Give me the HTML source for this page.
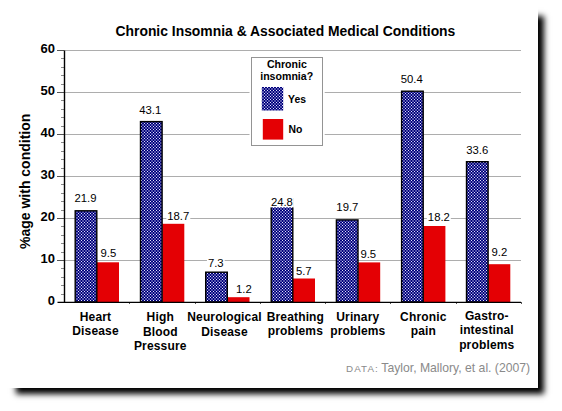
<!DOCTYPE html>
<html><head><meta charset="utf-8"><style>
html,body{margin:0;padding:0;background:#fff;width:562px;height:411px;overflow:hidden}
.card{position:absolute;left:0;top:0;width:538px;height:388px;background:#fff;box-shadow:10.7px 10.5px 6px -5px #000}
svg{position:absolute;left:0;top:0}
text{font-family:"Liberation Sans",sans-serif}
.dl{font-size:11.3px;text-anchor:middle;fill:#000}
.xl{font-size:12px;font-weight:bold;letter-spacing:0.15px;text-anchor:middle;fill:#000}
.yt{font-size:13px;font-weight:bold;text-anchor:end;fill:#000}
</style></head><body>
<div class="card"></div>
<svg width="562" height="411" viewBox="0 0 562 411">
<defs>
<pattern id="dots" patternUnits="userSpaceOnUse" x="0" y="0" width="3" height="3">
<rect width="3" height="3" fill="#00007c"/>
<rect x="0" y="0" width="1" height="1" fill="#e4e4fc"/>
<rect x="1.4" y="1.4" width="1.2" height="1.2" fill="#e4e4fc"/>
</pattern>
</defs>
<text x="285.4" y="36.4" style="font-size:13.9px;font-weight:bold;text-anchor:middle">Chronic Insomnia &amp; Associated Medical Conditions</text>
<line x1="57" y1="260.5" x2="521" y2="260.5" stroke="#adadad"/><line x1="57" y1="260.5" x2="64" y2="260.5" stroke="#555"/><line x1="57" y1="218.5" x2="521" y2="218.5" stroke="#adadad"/><line x1="57" y1="218.5" x2="64" y2="218.5" stroke="#555"/><line x1="57" y1="176.5" x2="521" y2="176.5" stroke="#adadad"/><line x1="57" y1="176.5" x2="64" y2="176.5" stroke="#555"/><line x1="57" y1="134.5" x2="521" y2="134.5" stroke="#adadad"/><line x1="57" y1="134.5" x2="64" y2="134.5" stroke="#555"/><line x1="57" y1="92.5" x2="521" y2="92.5" stroke="#adadad"/><line x1="57" y1="92.5" x2="64" y2="92.5" stroke="#555"/><line x1="57" y1="50.5" x2="521" y2="50.5" stroke="#adadad"/><line x1="57" y1="50.5" x2="64" y2="50.5" stroke="#555"/>
<line x1="61" y1="294.5" x2="64" y2="294.5" stroke="#8a8a8a"/><line x1="61" y1="285.5" x2="64" y2="285.5" stroke="#8a8a8a"/><line x1="61" y1="277.5" x2="64" y2="277.5" stroke="#8a8a8a"/><line x1="61" y1="268.5" x2="64" y2="268.5" stroke="#8a8a8a"/><line x1="61" y1="252.5" x2="64" y2="252.5" stroke="#8a8a8a"/><line x1="61" y1="243.5" x2="64" y2="243.5" stroke="#8a8a8a"/><line x1="61" y1="235.5" x2="64" y2="235.5" stroke="#8a8a8a"/><line x1="61" y1="226.5" x2="64" y2="226.5" stroke="#8a8a8a"/><line x1="61" y1="210.5" x2="64" y2="210.5" stroke="#8a8a8a"/><line x1="61" y1="201.5" x2="64" y2="201.5" stroke="#8a8a8a"/><line x1="61" y1="193.5" x2="64" y2="193.5" stroke="#8a8a8a"/><line x1="61" y1="184.5" x2="64" y2="184.5" stroke="#8a8a8a"/><line x1="61" y1="168.5" x2="64" y2="168.5" stroke="#8a8a8a"/><line x1="61" y1="159.5" x2="64" y2="159.5" stroke="#8a8a8a"/><line x1="61" y1="151.5" x2="64" y2="151.5" stroke="#8a8a8a"/><line x1="61" y1="142.5" x2="64" y2="142.5" stroke="#8a8a8a"/><line x1="61" y1="126.5" x2="64" y2="126.5" stroke="#8a8a8a"/><line x1="61" y1="117.5" x2="64" y2="117.5" stroke="#8a8a8a"/><line x1="61" y1="109.5" x2="64" y2="109.5" stroke="#8a8a8a"/><line x1="61" y1="100.5" x2="64" y2="100.5" stroke="#8a8a8a"/><line x1="61" y1="84.5" x2="64" y2="84.5" stroke="#8a8a8a"/><line x1="61" y1="75.5" x2="64" y2="75.5" stroke="#8a8a8a"/><line x1="61" y1="67.5" x2="64" y2="67.5" stroke="#8a8a8a"/><line x1="61" y1="58.5" x2="64" y2="58.5" stroke="#8a8a8a"/>
<rect x="97.00" y="262.30" width="22" height="39.70" fill="#e40004"/><rect x="75.20" y="210.80" width="21.6" height="91.20" fill="url(#dots)" stroke="#000" stroke-width="1.4"/><rect x="162.30" y="223.80" width="22" height="78.20" fill="#e40004"/><rect x="140.50" y="121.60" width="21.6" height="180.40" fill="url(#dots)" stroke="#000" stroke-width="1.4"/><rect x="227.50" y="297.20" width="22" height="4.80" fill="#e40004"/><rect x="205.70" y="272.20" width="21.6" height="29.80" fill="url(#dots)" stroke="#000" stroke-width="1.4"/><rect x="293.00" y="278.50" width="22" height="23.50" fill="#e40004"/><rect x="271.20" y="198.70" width="21.6" height="103.30" fill="url(#dots)" stroke="#000" stroke-width="1.4"/><rect x="358.20" y="262.40" width="22" height="39.60" fill="#e40004"/><rect x="336.40" y="219.90" width="21.6" height="82.10" fill="url(#dots)" stroke="#000" stroke-width="1.4"/><rect x="423.40" y="226.00" width="22" height="76.00" fill="#e40004"/><rect x="401.60" y="91.20" width="21.6" height="210.80" fill="url(#dots)" stroke="#000" stroke-width="1.4"/><rect x="488.30" y="264.20" width="22" height="37.80" fill="#e40004"/><rect x="466.50" y="161.70" width="21.6" height="140.30" fill="url(#dots)" stroke="#000" stroke-width="1.4"/>
<line x1="129.50" y1="302" x2="129.50" y2="304" stroke="#555"/><line x1="195.50" y1="302" x2="195.50" y2="304" stroke="#555"/><line x1="260.50" y1="302" x2="260.50" y2="304" stroke="#555"/><line x1="325.50" y1="302" x2="325.50" y2="304" stroke="#555"/><line x1="390.50" y1="302" x2="390.50" y2="304" stroke="#555"/><line x1="456.50" y1="302" x2="456.50" y2="304" stroke="#555"/><line x1="521.50" y1="302" x2="521.50" y2="304" stroke="#555"/>
<line x1="57.5" y1="302.35" x2="521" y2="302.35" stroke="#000" stroke-width="1.3"/>
<rect x="63.8" y="50.5" width="1.4" height="252.5" fill="#000"/>
<rect x="73.45" y="193.10" width="23.99" height="10.6" fill="#fff"/><text x="85.45" y="202.10" class="dl">21.9</text><rect x="99.60" y="247.80" width="17.71" height="10.6" fill="#fff"/><text x="108.45" y="256.80" class="dl">9.5</text><rect x="138.25" y="104.70" width="23.99" height="10.6" fill="#fff"/><text x="150.25" y="113.70" class="dl">43.1</text><rect x="166.30" y="210.50" width="23.99" height="10.6" fill="#fff"/><text x="178.30" y="219.50" class="dl">18.7</text><rect x="206.95" y="258.20" width="17.71" height="10.6" fill="#fff"/><text x="215.80" y="267.20" class="dl">7.3</text><rect x="235.05" y="283.70" width="17.71" height="10.6" fill="#fff"/><text x="243.90" y="292.70" class="dl">1.2</text><rect x="269.90" y="196.80" width="23.99" height="10.6" fill="#fff"/><text x="281.90" y="205.80" class="dl">24.8</text><rect x="294.95" y="265.60" width="17.71" height="10.6" fill="#fff"/><text x="303.80" y="274.60" class="dl">5.7</text><rect x="335.35" y="202.40" width="23.99" height="10.6" fill="#fff"/><text x="347.35" y="211.40" class="dl">19.7</text><rect x="359.40" y="248.90" width="17.71" height="10.6" fill="#fff"/><text x="368.25" y="257.90" class="dl">9.5</text><rect x="399.80" y="73.70" width="23.99" height="10.6" fill="#fff"/><text x="411.80" y="82.70" class="dl">50.4</text><rect x="426.85" y="211.90" width="23.99" height="10.6" fill="#fff"/><text x="438.85" y="220.90" class="dl">18.2</text><rect x="465.25" y="144.60" width="23.99" height="10.6" fill="#fff"/><text x="477.25" y="153.60" class="dl">33.6</text><rect x="490.55" y="247.00" width="17.71" height="10.6" fill="#fff"/><text x="499.40" y="256.00" class="dl">9.2</text>
<text x="55" y="305.30" class="yt">0</text><text x="55" y="263.30" class="yt">10</text><text x="55" y="221.30" class="yt">20</text><text x="55" y="179.30" class="yt">30</text><text x="55" y="137.30" class="yt">40</text><text x="55" y="95.30" class="yt">50</text><text x="55" y="53.30" class="yt">60</text>
<text transform="translate(30.0,181.35) rotate(-90)" style="font-size:14px;font-weight:bold;text-anchor:middle">%age with condition</text>
<rect x="249.5" y="55" width="75.2" height="92.5" fill="#fff"/>
<rect x="251.5" y="57.5" width="71" height="88" fill="#fff" stroke="#949494"/>
<text x="286.9" y="67.8" style="font-size:10.6px;font-weight:bold;text-anchor:middle">Chronic</text>
<text x="286.7" y="80" style="font-size:10.6px;font-weight:bold;text-anchor:middle">insomnia?</text>
<rect x="261.8" y="87" width="21.4" height="23.5" fill="url(#dots)"/>
<rect x="262.8" y="119" width="20.4" height="20.6" fill="#e40004"/>
<text x="288.1" y="103.3" style="font-size:10.4px;font-weight:bold">Yes</text>
<text x="288.4" y="132.8" style="font-size:10.4px;font-weight:bold">No</text>
<text x="95.5" y="320.80" class="xl">Heart</text><text x="95.5" y="335.25" class="xl">Disease</text><text x="160.25" y="321.20" class="xl">High</text><text x="160.25" y="335.65" class="xl">Blood</text><text x="160.25" y="350.10" class="xl">Pressure</text><text x="224.5" y="321.40" class="xl">Neurological</text><text x="224.5" y="335.85" class="xl">Disease</text><text x="295.4" y="320.80" class="xl">Breathing</text><text x="295.4" y="335.25" class="xl">problems</text><text x="357.8" y="320.80" class="xl">Urinary</text><text x="357.8" y="335.25" class="xl">problems</text><text x="423.3" y="320.50" class="xl">Chronic</text><text x="423.3" y="334.95" class="xl">pain</text><text x="486.75" y="319.90" class="xl">Gastro-</text><text x="486.75" y="334.35" class="xl">intestinal</text><text x="486.75" y="348.80" class="xl">problems</text>
<text x="346" y="372.2" style="font-size:12.2px;fill:#8a8a8a"><tspan style="font-size:9.8px;letter-spacing:1.1px">DATA:</tspan><tspan x="381.3">Taylor, Mallory, et al. (2007)</tspan></text>
</svg>
</body></html>
